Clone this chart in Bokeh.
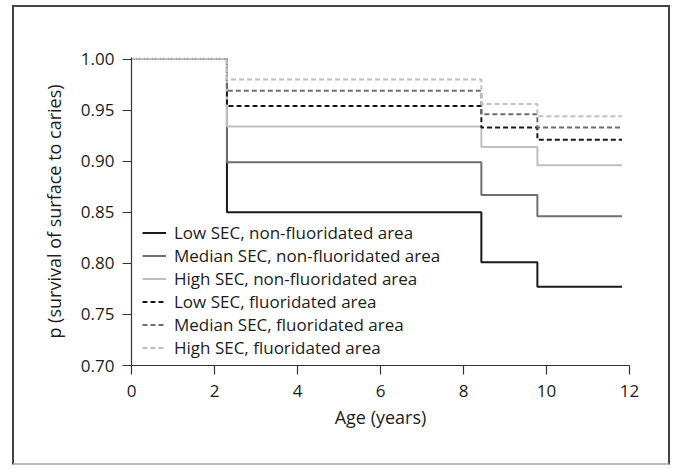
from bokeh.plotting import figure
from bokeh.models import Range1d, FixedTicker, Legend, LegendItem, PrintfTickFormatter
from bokeh.embed import file_html
from bokeh.resources import INLINE

# Data
times = [0.0, 2.3, 8.43, 9.78, 11.82]
low_nonfluor = [1.000, 0.850, 0.801, 0.777]
median_nonfluor = [1.000, 0.899, 0.867, 0.846]
high_nonfluor = [1.000, 0.934, 0.914, 0.896]
low_fluor = [1.000, 0.954, 0.933, 0.921]
median_fluor = [1.000, 0.969, 0.946, 0.933]
high_fluor = [1.000, 0.980, 0.956, 0.944]

series_names = [
    "Low SEC, non-fluoridated area",
    "Median SEC, non-fluoridated area",
    "High SEC, non-fluoridated area",
    "Low SEC, fluoridated area",
    "Median SEC, fluoridated area",
    "High SEC, fluoridated area",
]
series_values = [low_nonfluor, median_nonfluor, high_nonfluor,
                 low_fluor, median_fluor, high_fluor]
series_colors = ["#1a1a1a", "#6e6e6e", "#bfbfbf", "#1a1a1a", "#6e6e6e", "#bfbfbf"]
series_dash = ["solid", "solid", "solid", "5 3", "5 3", "5 3"]

x_ticks = [0, 2, 4, 6, 8, 10, 12]
y_ticks = [0.70, 0.75, 0.80, 0.85, 0.90, 0.95, 1.00]

FONT = "Open Sans"
TXT = "#1c1c1c"

p = figure(
    width=658, height=460,
    output_backend="svg", toolbar_location=None,
    x_range=Range1d(0, 12), y_range=Range1d(0.7, 1.0015),
    min_border_left=117, min_border_right=43,
    min_border_top=50, min_border_bottom=102,
    background_fill_color="white", border_fill_color="white",
    styles={"margin": "5px 0px 0px 12px",
            "border": "2px solid #444444",
            "border-bottom-color": "#bbbbbb"},
)
p.outline_line_color = None
p.grid.visible = False

items = []
for name, vals, col, dash in zip(series_names, series_values, series_colors, series_dash):
    ys = vals + [vals[-1]]
    r = p.step(times, ys, mode="after", line_color=col, line_width=2, line_dash=dash)
    items.append(LegendItem(label=name, renderers=[r]))

for ax in (p.xaxis[0], p.yaxis[0]):
    ax.axis_line_color = "#333333"
    ax.axis_line_width = 1.2
    ax.major_tick_line_color = "#333333"
    ax.major_tick_line_width = 1.2
    ax.major_tick_in = 0
    ax.major_tick_out = 9
    ax.minor_tick_line_color = None
    ax.major_label_text_font = FONT
    ax.major_label_text_font_size = "17px"
    ax.major_label_text_color = TXT
    ax.axis_label_text_font = FONT
    ax.axis_label_text_font_size = "18px"
    ax.axis_label_text_font_style = "normal"
    ax.axis_label_text_color = TXT

p.xaxis.major_label_standoff = 10
p.yaxis.major_label_standoff = 8
p.xaxis.ticker = FixedTicker(ticks=x_ticks)
p.yaxis.ticker = FixedTicker(ticks=y_ticks)
p.yaxis.formatter = PrintfTickFormatter(format="%.2f")
p.xaxis.axis_label = "Age (years)"
p.yaxis.axis_label = "p (survival of surface to caries)"
p.xaxis.axis_label_standoff = 5
p.yaxis.axis_label_standoff = 12

legend = Legend(
    items=items, location=(11, 6),
    padding=0, margin=0, spacing=0,
    border_line_color=None, background_fill_alpha=0,
    glyph_width=24, glyph_height=23, label_height=23, label_standoff=8,
    label_text_font=FONT, label_text_font_size="17px", label_text_color=TXT,
)
p.add_layout(legend)

open("out.html", "w").write(file_html(p, INLINE))
